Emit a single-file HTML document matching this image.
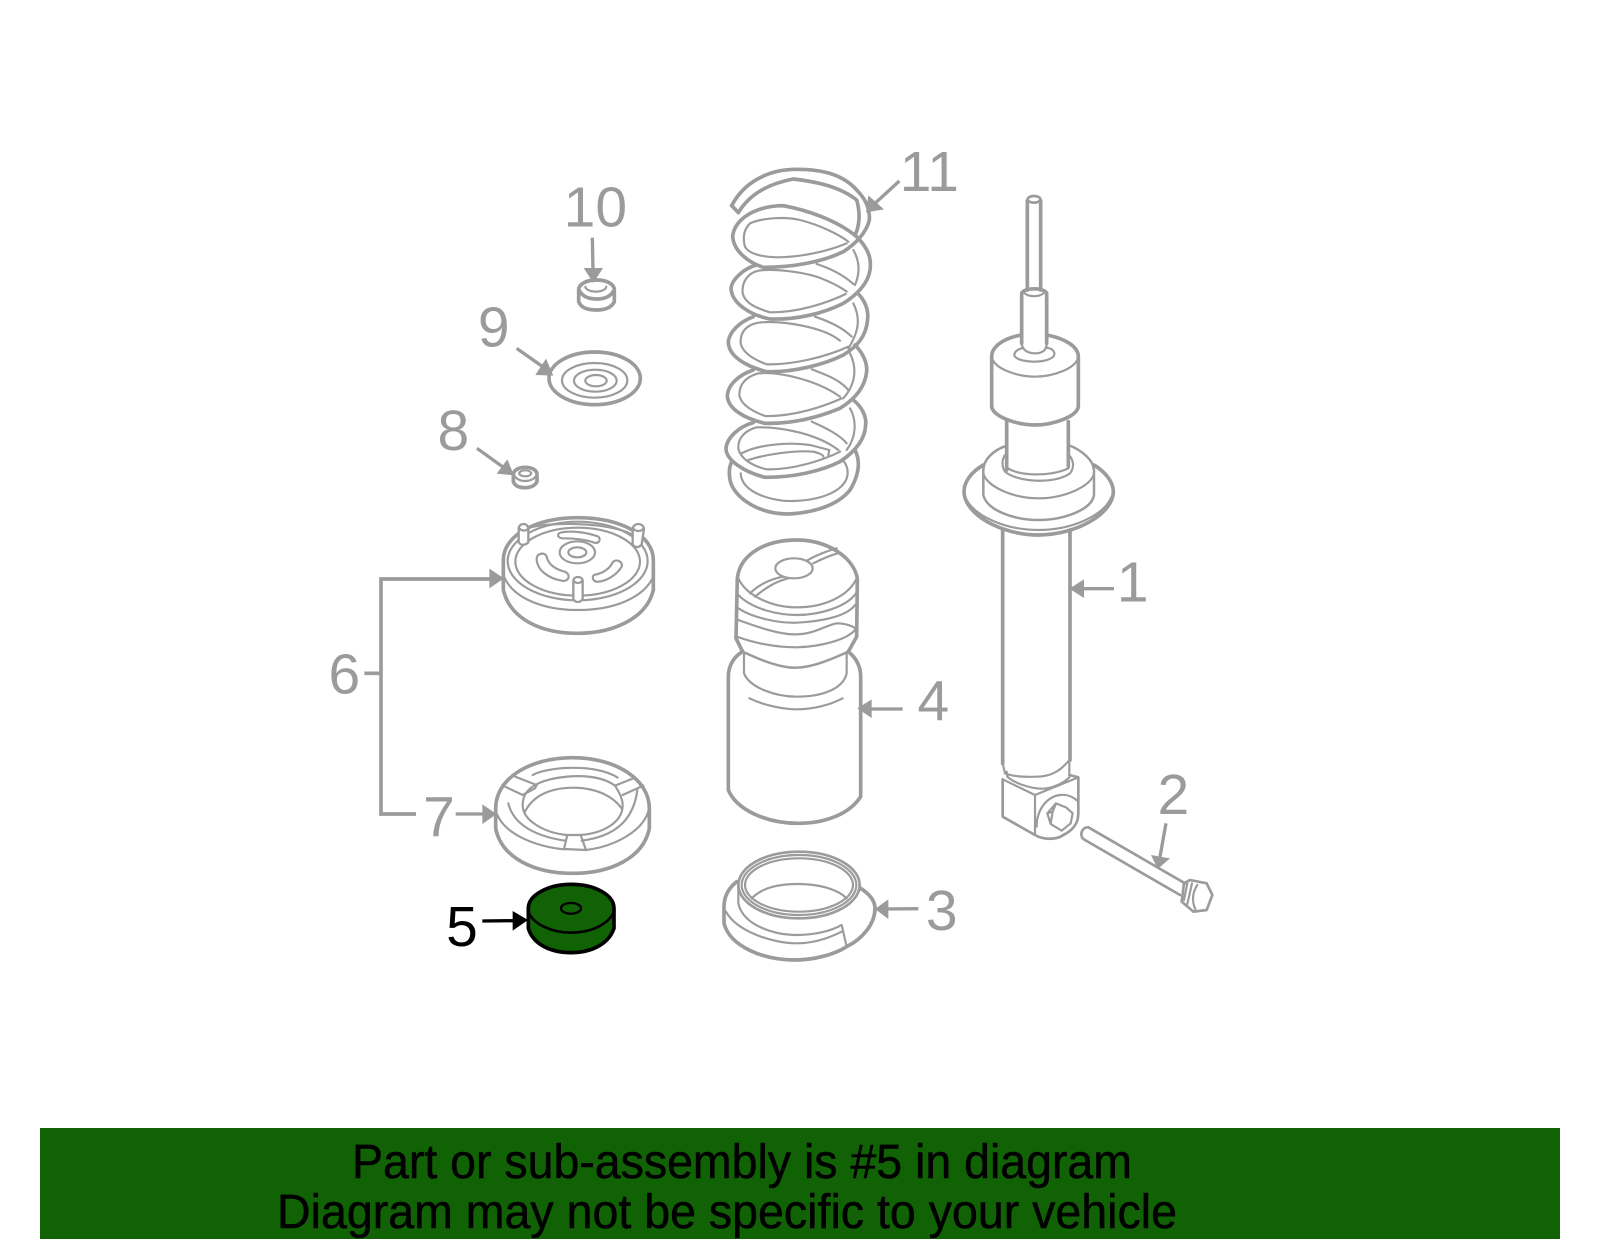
<!DOCTYPE html>
<html><head><meta charset="utf-8"><title>Diagram</title>
<style>html,body{margin:0;padding:0;background:#fff}svg{display:block}
text{font-family:"Liberation Sans",Arial,sans-serif}
.k{fill:none;stroke:#9b9b9b;stroke-width:11;stroke-linejoin:round;stroke-linecap:round}
.t{fill:none;stroke:#9b9b9b;stroke-width:6.5;stroke-linejoin:round;stroke-linecap:round}
.w{fill:#fff;stroke:#9b9b9b;stroke-width:7}
.a{fill:#9b9b9b;stroke:none}
.l{fill:none;stroke:#9b9b9b;stroke-width:10}
.n{fill:#9b9b9b;font-size:171px;text-anchor:middle}
</style></head><body>
<svg width="1600" height="1249" viewBox="0 0 1600 1249" xmlns="http://www.w3.org/2000/svg">
<rect width="1600" height="1249" fill="#fff"/>

<!-- 10, 9, 8 -->
<g transform="translate(300,130) scale(.33333)">
<text class="n" x="886" y="290">10</text>
<path class="l" d="M877 323L879 420"/><path class="a" d="M851 414H909L880 459Z"/>
<path class="k" d="M836 480C836 462 860 450 889 450C920 450 943 462 943 480V515C935 532 915 540 889 540C862 540 842 532 836 515Z"/>
<path class="k" d="M838 482C848 500 868 507 889 507C912 507 932 500 941 482"/>
<path class="t" d="M856 470C860 490 915 490 919 470"/>
<text class="n" x="581" y="650">9</text>
<path class="l" d="M650 655L725 708"/><path class="a" d="M738 686L706 735L760 737Z"/>
<ellipse class="k" cx="884" cy="745" rx="137" ry="79"/>
<ellipse class="t" cx="884" cy="751" rx="98" ry="52"/>
<ellipse class="t" cx="886" cy="752" rx="64" ry="33"/>
<ellipse class="t" cx="888" cy="752" rx="32" ry="17"/>
<text class="n" x="460" y="960">8</text>
<path class="l" d="M531 955L610 1012"/><path class="a" d="M622 988L590 1031L642 1036Z"/>
<path class="k" d="M640 1032C642 1020 658 1012 675 1012C695 1012 710 1020 711 1032V1055C705 1068 690 1073 675 1073C658 1073 645 1068 640 1055Z"/>
<path class="t" d="M642 1035C650 1050 665 1053 675 1053C690 1053 703 1048 710 1035"/>
<path class="t" d="M657 1030C662 1018 690 1018 694 1030C690 1042 662 1042 657 1030Z"/>
</g>

<!-- 6 mount -->
<g transform="translate(490,505) scale(.33333)">
<path class="k" d="M40 165C40 90 140 38 263 38C390 38 490 90 490 165V255C470 340 370 385 263 385C150 385 60 340 40 255Z"/>
<path class="t" d="M42 215C70 280 160 315 263 315C370 315 460 280 490 215"/>
<ellipse class="t" cx="263" cy="168" rx="210" ry="118"/>
<ellipse class="t" cx="263" cy="170" rx="187" ry="102"/>
<path class="t" d="M110 70C160 52 350 48 425 88"/>
<path class="w" d="M86 72C86 52 115 52 115 72V112C105 122 92 122 86 112Z"/>
<path class="w" d="M428 72C430 52 460 52 462 72L455 118C445 130 432 128 428 118Z"/>
<path class="w" d="M250 228C250 212 278 212 278 228V282C270 294 256 294 250 282Z"/>
<path class="t" d="M252 228C258 236 270 236 276 228M90 72C95 78 110 78 113 72M431 72C438 80 452 80 459 72"/>
<ellipse class="t" cx="262" cy="142" rx="53" ry="33"/>
<ellipse class="t" cx="262" cy="142" rx="27" ry="15"/>
<path class="t" d="M215 82C250 75 300 85 325 95C335 105 325 118 310 112C280 102 250 100 218 100C200 98 200 85 215 82Z"/>
<path class="t" d="M140 160C140 145 165 140 170 155C175 180 200 195 225 200C245 210 235 232 215 227C175 220 140 195 140 160Z"/>
<path class="t" d="M312 210C340 205 360 190 368 172C378 160 400 170 395 185C380 210 350 228 325 230C308 232 305 215 312 210Z"/>
</g>

<!-- 7 ring -->
<g transform="translate(480,745) scale(.33333)">
<path class="k" d="M47 190C47 100 150 38 278 38C410 38 508 105 508 190V250C490 340 390 385 278 385C165 385 65 340 47 250Z"/>
<path class="t" d="M50 205C75 270 170 305 252 313M318 315C400 305 490 260 506 195"/>
<path class="t" d="M85 175C100 240 170 275 256 287M305 287C400 275 460 230 472 135"/>
<path class="t" d="M262 270C200 265 128 230 128 180C128 150 145 130 170 118M302 270C365 265 428 235 428 180C428 165 420 145 405 122"/>
<path class="t" d="M135 200C160 150 215 128 280 128C350 128 400 155 425 190M158 90C200 65 350 55 413 98M170 118C210 95 340 75 405 122"/>
<path class="t" d="M105 95L170 120L165 130L128 150L75 125M405 122L460 100M428 150L490 122"/>
<path class="t" d="M262 270L252 312L318 315L302 270Z"/>
</g>

<!-- 11 spring -->
<g transform="translate(700,140) scale(.33333)">
<text class="n" x="688" y="153">11</text>
<path class="l" d="M598 123L525 190"/><path class="a" d="M505 166L552 208L498 217Z"/>
<path class="k" d="M95 197L115 218C150 160 210 130 280 117C350 125 420 140 470 180C482 220 478 260 465 285"/>
<path class="k" d="M95 197C130 130 200 88 290 88C370 88 430 105 470 150C500 180 510 210 508 240C500 275 470 310 430 335C370 365 280 382 190 382C150 370 100 335 98 288C105 235 170 197 250 197C320 210 410 240 470 290C505 325 515 355 510 390C505 430 470 465 430 490C370 520 290 540 210 537C150 525 95 490 93 445C95 420 130 385 170 375"/>
<path class="t" d="M440 310C380 335 300 352 230 352C180 350 145 340 135 320C128 295 130 270 150 250C190 232 260 230 300 240C360 255 420 285 445 305"/>
<path class="t" d="M437 462C380 490 290 518 210 517C170 505 135 490 128 460C125 430 140 400 175 392C220 385 300 395 350 410C390 425 420 440 440 455M350 372C390 385 430 405 460 432M460 330C480 365 480 400 465 435"/>
<path class="k" d="M478 465C495 485 505 510 503 535C500 590 470 620 430 645C370 675 280 697 200 695C140 680 85 650 85 605C88 575 120 545 160 530"/>
<path class="t" d="M445 620C380 650 280 675 200 673C165 660 128 640 122 610C120 575 140 555 175 548C240 540 370 560 420 602M345 530C390 545 430 565 455 590M460 490C480 530 480 570 445 625"/>
<path class="k" d="M465 615C490 640 502 670 500 695C495 745 460 780 420 805C360 830 280 852 195 850C130 835 82 805 82 765C85 735 115 705 160 690"/>
<path class="t" d="M425 775C370 800 280 830 195 828C160 815 122 795 118 765C118 730 140 710 175 700C240 695 350 720 420 770M335 688C380 705 420 720 445 750M450 640C470 680 470 730 430 775"/>
<path class="k" d="M460 780C485 800 500 830 497 855C495 900 465 935 420 965C360 995 280 1012 195 1012C130 995 78 960 78 925C80 895 115 860 160 848"/>
<path class="t" d="M420 935C370 960 280 990 200 988C165 980 122 960 115 925C113 890 140 870 170 862C240 860 350 880 415 930M335 845C380 865 420 885 440 910M450 805C470 840 470 890 440 930"/>
<path class="k" d="M465 930C480 960 480 1000 450 1050C410 1100 330 1120 260 1122C170 1120 100 1070 90 1020C85 990 90 975 95 965"/>
<path class="t" d="M122 1000C125 1060 220 1085 280 1083C370 1080 440 1050 443 1000C443 985 440 975 432 965M125 940C170 915 260 905 330 915L388 930L385 945M145 960C190 945 280 930 340 935C360 940 370 945 370 950"/>
</g>

<!-- 4 and 3 -->
<g transform="translate(700,530) scale(.33333)">
<path class="k" d="M128 365C100 380 85 410 85 440V780C110 840 200 880 295 880C380 880 450 850 482 800V440C482 410 470 385 445 365"/>
<path class="k" d="M112 145C120 70 200 30 290 30C380 30 460 80 472 145L470 320L445 365M112 145L108 325L128 365"/>
<path class="t" d="M115 145C140 200 220 232 290 232C370 232 445 200 470 145M115 195C160 240 240 255 290 255C360 255 440 230 468 190M115 235C160 265 240 280 290 278C360 275 440 260 465 225M115 270C170 290 240 315 290 313C340 313 380 285 410 280C440 280 460 290 465 295M110 320C180 345 240 352 290 352C360 350 440 330 465 300"/>
<path class="k" style="stroke-width:7.5" d="M128 365C170 385 240 415 290 413C340 412 400 385 445 365"/>
<path class="t" d="M132 370V430C150 475 230 500 290 500C370 500 430 475 440 430V365M148 505C200 530 260 538 290 538C340 538 390 525 428 505"/>
<ellipse class="t" cx="282" cy="115" rx="56" ry="30"/>
<path class="t" d="M150 190C180 160 220 145 250 140M165 200C195 175 225 155 265 145M320 92C350 75 385 62 410 55M340 100C370 85 395 75 413 70"/>
<path class="l" d="M608 537H510"/><path class="a" d="M515 508V564L472 535Z"/>
<text class="n" x="700" y="572">4</text>

<ellipse class="k" style="stroke-width:8" cx="297" cy="1065" rx="182" ry="100"/>
<ellipse class="t" cx="297" cy="1065" rx="172" ry="90"/>
<ellipse class="t" cx="297" cy="1065" rx="162" ry="80"/>
<path class="t" d="M155 1105C190 1070 240 1062 295 1062C350 1062 410 1075 440 1105M115 1065V1120C130 1190 230 1215 290 1215C340 1215 390 1205 425 1185L440 1250M480 1065V1080M78 1145C110 1205 220 1240 290 1240C340 1240 385 1225 425 1205"/>
<path class="k" d="M110 1055C85 1075 72 1100 72 1130V1180C90 1250 190 1290 285 1290C340 1290 400 1275 440 1250C490 1225 525 1180 525 1135C525 1110 505 1090 482 1075"/>
<path class="l" d="M655 1136L560 1137"/><path class="a" d="M565 1108V1167L525 1137Z"/>
<text class="n" x="725" y="1200">3</text>
</g>

<!-- 1 upper -->
<g transform="translate(950,180) scale(.33333)">
<path class="k" d="M232 62V330M272 62V330"/>
<ellipse class="k" style="stroke-width:8" cx="252" cy="58" rx="19" ry="10"/>
<path class="k" d="M215 340V490M290 340V490M215 340C220 322 285 322 290 340"/>
<path class="t" d="M222 338C235 352 270 352 282 338M215 490C218 515 240 520 255 520C275 520 290 512 290 490M215 505C195 510 190 525 195 530C215 550 290 550 310 530C318 520 310 505 290 503"/>
<path class="k" d="M213 465C160 475 125 500 125 530V680C130 710 200 735 255 735C310 735 380 710 385 680V530C385 500 345 475 290 465"/>
<path class="t" d="M125 530C130 565 200 590 255 590C310 590 380 565 385 530"/>
<path class="k" d="M170 725V870M355 725V860"/>
<path class="t" d="M168 860C200 890 300 890 355 865M165 825C155 840 155 860 165 875C200 905 310 915 360 880C375 860 370 840 357 825"/>
<path class="k" style="stroke-width:7.5" d="M168 798C130 810 100 840 100 870V945C110 990 190 1020 265 1020C340 1020 425 990 432 945V870C430 840 395 810 355 795"/>
<path class="t" d="M100 880C110 920 190 955 265 955C340 955 425 920 432 880"/>
<path class="k" d="M100 855C65 875 42 905 42 935C42 1000 150 1065 265 1065C380 1065 490 1000 490 935C490 905 465 875 432 855"/>
<path class="t" d="M45 950C70 1010 170 1050 265 1050C360 1050 460 1010 485 950"/>
</g>

<!-- 1 lower and 2 -->
<g transform="translate(980,540) scale(.33333)">
<path class="k" d="M68 -30V670M270 -30V660"/>
<path class="t" d="M68 670L75 700C95 708 120 712 170 710C210 710 240 695 268 660V708"/>
<path class="k" style="stroke-width:8" d="M68 718V830L165 885C190 900 230 900 250 885C280 870 295 850 295 820V712L268 705"/>
<path class="t" d="M68 718L165 765L295 712M80 695L82 710C110 735 170 750 200 745C230 740 255 725 268 712M165 765V885M170 860C170 810 200 770 240 765C260 762 280 770 295 785"/>
<path class="t" d="M202 820L228 790L258 802L278 820L272 850L245 872L212 852ZM228 790L218 815L212 852M202 820L218 815"/>
<path class="l" d="M402 146H305"/><path class="a" d="M312 118V174L268 146Z"/>
<text class="n" x="458" y="185">1</text>
<path class="k" style="stroke-width:8" d="M325 862L615 1030M315 900L600 1065M325 862C305 860 295 890 315 900"/>
<path class="k" style="stroke-width:8" d="M612 1030L630 1020L680 1030L697 1065L680 1110L640 1115L605 1085Z"/>
<path class="t" d="M622 1030L612 1080M636 1030L622 1092M652 1035C636 1060 636 1085 646 1108"/>
<path class="l" d="M558 850L540 950"/><path class="a" d="M513 945L570 955L533 987Z"/>
<text class="n" x="580" y="822">2</text>
</g>

<!-- bracket, 6, 7, 5 -->
<g transform="translate(300,540) scale(.33333)">
<path class="l" style="stroke-width:11" d="M575 117H243V822H348M193 400H243"/>
<path class="a" d="M568 86V145L612 115Z"/>
<text class="n" x="133" y="460">6</text>
<text class="n" x="417" y="890">7</text>
<path class="l" style="stroke-width:10" d="M467 822H555"/><path class="a" d="M547 793V852L590 822Z"/>
<path fill="#116105" stroke="#000" stroke-width="11" stroke-linejoin="round" d="M685 1105C685 1065 745 1033 813 1033C885 1033 942 1065 942 1105V1165C925 1215 870 1238 813 1238C755 1238 700 1215 685 1165Z"/>
<path fill="none" stroke="#000" stroke-width="8" d="M685 1115C700 1155 760 1178 813 1178C870 1178 925 1155 942 1115"/>
<ellipse fill="#116105" stroke="#000" stroke-width="7" cx="813" cy="1105" rx="30" ry="16"/>
<path fill="none" stroke="#000" stroke-width="10" d="M547 1143L645 1142"/><path fill="#000" d="M638 1113V1172L684 1140Z"/>
<text class="n" style="fill:#000" x="486" y="1218">5</text>
</g>

<!-- banner -->
<rect x="40" y="1128" width="1520" height="111" fill="#116105"/>
<text x="352" y="1178" font-size="48" fill="#000" stroke="#000" stroke-width=".5" textLength="780" lengthAdjust="spacingAndGlyphs">Part or sub-assembly is #5 in diagram</text>
<text x="277" y="1228" font-size="48" fill="#000" stroke="#000" stroke-width=".5" textLength="900" lengthAdjust="spacingAndGlyphs">Diagram may not be specific to your vehicle</text>
</svg>
</body></html>
